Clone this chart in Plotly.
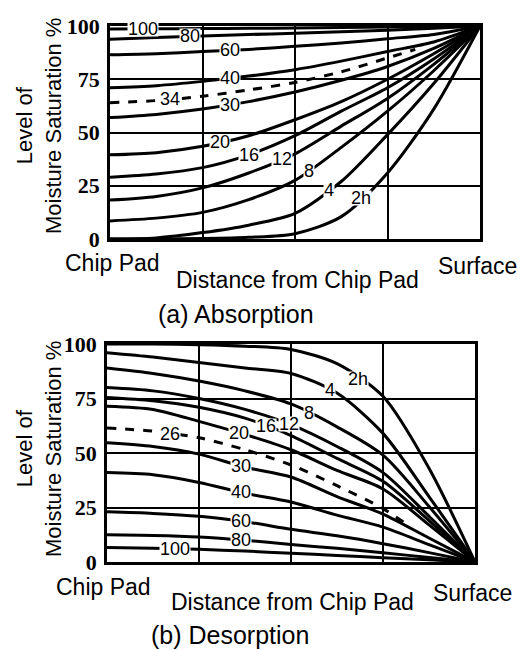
import numpy as np
import plotly.graph_objects as go

# ---------------- data ----------------
x_pts = [0, 0.5, 1, 1.5, 2, 2.5, 3, 3.5, 4]
y_ticks = [0, 25, 50, 75, 100]

# (a) Absorption: moisture saturation (%) vs distance, per exposure time
abs_names = ["100", "80", "60", "40", "34", "30", "20", "16", "12", "8", "4", "2h"]
abs_100 = [98.6, 98.7, 98.8, 98.9, 99.1, 99.3, 99.5, 99.7, 100]
abs_80 = [93.8, 94.6, 95.3, 96.0, 96.6, 97.3, 98.0, 99.0, 100]
abs_60 = [86.5, 87.0, 88.0, 89.0, 90.5, 92.0, 94.0, 96.0, 100]
abs_40 = [71.0, 72.0, 74.0, 76.5, 79.5, 83.5, 88.0, 92.5, 100]
abs_34 = [64.0, 65.0, 67.0, 70.0, 73.5, 78.5, 85.0, 89.0]
abs_34_x = [0, 0.5, 1, 1.5, 2, 2.5, 3, 3.3]
abs_30 = [57.0, 58.5, 61.0, 64.5, 69.0, 74.5, 81.0, 89.5, 100]
abs_20 = [39.5, 40.5, 43.5, 48.5, 56.0, 64.5, 75.0, 87.0, 100]
abs_16 = [29.0, 30.5, 33.5, 39.5, 48.5, 60.0, 71.0, 84.5, 100]
abs_12 = [18.3, 20.0, 24.0, 31.0, 40.0, 53.0, 66.0, 82.0, 100]
abs_8 = [8.5, 9.8, 12.5, 18.5, 27.5, 43.0, 60.0, 79.0, 100]
abs_4 = [0.0, 0.5, 3.0, 6.5, 12.0, 27.0, 49.0, 73.0, 100]
abs_2 = [0.0, 0.0, 0.2, 0.8, 2.5, 10.5, 31.0, 61.0, 100]
abs_label_x = [0.36, 0.86, 1.3, 1.3, 0.65, 1.3, 1.19, 1.5, 1.86, 2.15, 2.37, 2.71]

# (b) Desorption
des_names = ["2h", "4", "8", "12", "16", "20", "26", "30", "40", "60", "80", "100"]
des_2 = [100, 100, 99.7, 99.0, 97.5, 91.0, 76.0, 43.0, 0]
des_4 = [96.0, 94.0, 91.5, 89.0, 86.5, 77.5, 59.0, 30.0, 0]
des_8 = [89.0, 86.5, 83.0, 78.5, 72.5, 62.0, 49.0, 25.5, 0]
des_12 = [80.0, 78.5, 75.0, 70.0, 63.0, 53.0, 41.0, 21.0, 0]
des_16 = [75.5, 74.0, 71.0, 66.0, 58.0, 47.5, 37.0, 19.0, 0]
des_20 = [71.5, 70.0, 64.5, 58.5, 51.5, 42.0, 33.5, 17.0, 0]
des_26 = [61.5, 60.0, 57.0, 51.5, 44.5, 35.0, 24.5, 16.0]
des_26_x = [0, 0.5, 1, 1.5, 2, 2.5, 3, 3.3]
des_30 = [54.7, 53.0, 49.5, 43.5, 39.0, 30.0, 22.0, 11.0, 0]
des_40 = [41.0, 40.0, 36.5, 31.5, 27.5, 21.5, 16.0, 8.0, 0]
des_60 = [23.0, 22.3, 21.0, 18.5, 15.0, 12.0, 8.4, 4.3, 0]
des_80 = [12.5, 12.2, 11.5, 10.0, 8.0, 6.3, 4.2, 2.1, 0]
des_100 = [6.6, 6.3, 5.8, 5.0, 4.0, 3.0, 2.0, 1.0, 0]
des_label_x = [2.73, 2.42, 2.2, 1.98, 1.73, 1.44, 0.68, 1.46, 1.46, 1.46, 1.46, 0.74]

# ---------------- figure ----------------
W, H = 523, 650
fig = go.Figure()

LBL_FONT = dict(family="Liberation Sans, Arial, sans-serif", size=18, color="black")
TXT_FONT = dict(family="Liberation Sans, Arial, sans-serif", size=23, color="black")


def add_curves(xa, ya, names, series, xs_list, dashed, label_x):
    for i, (nm, ys) in enumerate(zip(names, series)):
        xs = xs_list[i]
        fig.add_trace(go.Scatter(
            x=xs, y=ys, mode="lines", xaxis=xa, yaxis=ya, showlegend=False,
            line=dict(color="black", width=3, shape="spline", smoothing=0.8,
                      dash="dash" if nm in dashed else "solid"),
            hoverinfo="skip"))
        ly = float(np.interp(label_x[i], xs, ys))
        fig.add_annotation(x=label_x[i], y=ly, xref=xa, yref=ya, text=nm,
                           showarrow=False, font=LBL_FONT, bgcolor="white",
                           borderpad=0, height=14)


abs_series = [abs_100, abs_80, abs_60, abs_40, abs_34, abs_30, abs_20,
              abs_16, abs_12, abs_8, abs_4, abs_2]
abs_xs = [abs_34_x if n == "34" else x_pts for n in abs_names]
add_curves("x", "y", abs_names, abs_series, abs_xs, {"34"}, abs_label_x)

des_series = [des_2, des_4, des_8, des_12, des_16, des_20, des_26, des_30,
              des_40, des_60, des_80, des_100]
des_xs = [des_26_x if n == "26" else x_pts for n in des_names]
add_curves("x2", "y2", des_names, des_series, des_xs, {"26"}, des_label_x)

axis_common = dict(showgrid=True, gridcolor="black", gridwidth=1.5,
                   showline=True, mirror=True, linecolor="black", linewidth=2.5,
                   zeroline=False, ticks="", fixedrange=True, automargin=False)
xcommon = dict(axis_common, range=[0, 4], dtick=1, tick0=0, showticklabels=False)
ycommon = dict(axis_common, range=[0, 100], tickvals=y_ticks,
               ticktext=[str(v) for v in y_ticks], ticklabelstandoff=3,
               tickfont=dict(family="Liberation Sans Narrow", size=22,
                             color="black", weight="bold"))

fig.update_layout(
    width=W, height=H, margin=dict(l=0, r=0, t=0, b=0, autoexpand=False),
    paper_bgcolor="white", plot_bgcolor="white",
    xaxis=dict(xcommon, domain=[110 / W, 480 / W], anchor="y"),
    yaxis=dict(ycommon, domain=[1 - 239 / H, 1 - 26 / H], anchor="x"),
    xaxis2=dict(xcommon, domain=[107 / W, 475 / W], anchor="y2"),
    yaxis2=dict(ycommon, domain=[1 - 562 / H, 1 - 344 / H], anchor="x2"),
)


def paper_text(txt, px, py, size=23, angle=0):
    fig.add_annotation(x=px / W, y=1 - py / H, xref="paper", yref="paper",
                       text=txt, showarrow=False, textangle=angle,
                       font=dict(TXT_FONT, size=size), xanchor="center", yanchor="middle")


ytitle = "Level of<br>Moisture Saturation %"
# top panel texts
paper_text(ytitle, 39, 126, size=22, angle=-90)
paper_text("Chip Pad", 112, 263)
paper_text("Distance from Chip Pad", 297, 280)
paper_text("Surface", 477, 266)
paper_text("(a) Absorption", 236, 314, size=25)
# bottom panel texts
paper_text(ytitle, 39, 449, size=22, angle=-90)
paper_text("Chip Pad", 103, 587)
paper_text("Distance from Chip Pad", 292, 602)
paper_text("Surface", 472, 593)
paper_text("(b) Desorption", 230, 635, size=25)

fig.write_html("out.html", config={"displayModeBar": False},
               post_script="document.body.style.margin='0px';")
